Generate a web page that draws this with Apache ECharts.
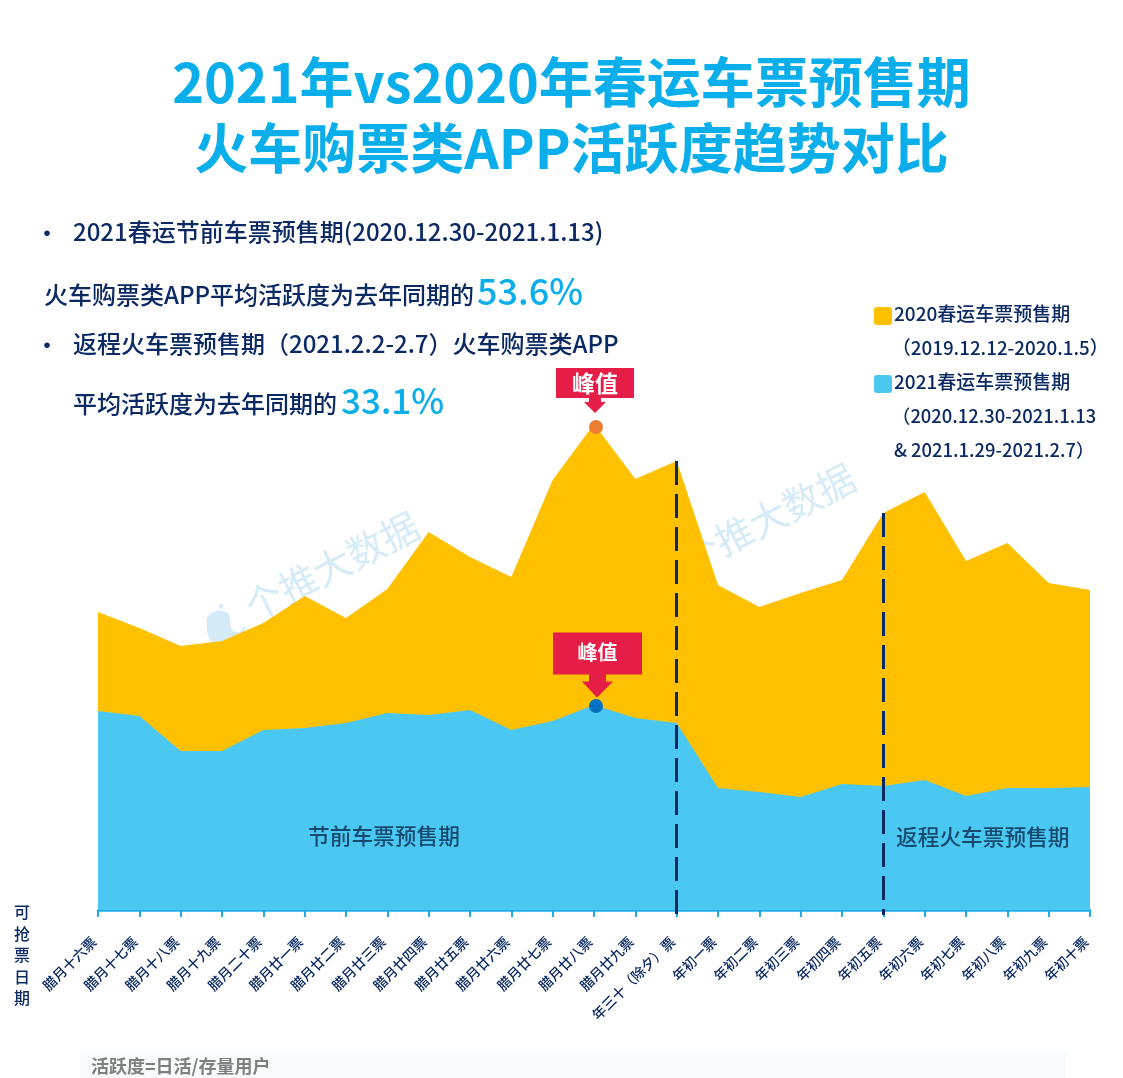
<!DOCTYPE html>
<html><head><meta charset="utf-8">
<style>html,body{margin:0;padding:0;background:#fff}#c{width:1123px;height:1078px}</style>
<script src="https://cdn.jsdelivr.net/npm/echarts@6/dist/echarts.min.js"></script>
</head><body><div id="c"></div>
<script>
const categories = ['腊月十六票','腊月十七票','腊月十八票','腊月十九票','腊月二十票','腊月廿一票','腊月廿二票','腊月廿三票','腊月廿四票','腊月廿五票','腊月廿六票','腊月廿七票','腊月廿八票','腊月廿九票','年三十（除夕）票','年初一票','年初二票','年初三票','年初四票','年初五票','年初六票','年初七票','年初八票','年初九票','年初十票'];
const values2020 = [59.6,56.4,52.8,53.8,57.4,62.8,58.4,64.2,75.6,70.6,66.6,86,97.2,86.2,89.8,65,60.6,63.4,66,79.4,83.6,69.8,73.4,65.4,64];
const values2021 = [39.8,38.8,31.8,31.8,36,36.4,37.4,39.4,39,40,36,37.8,41,38.4,37.4,24.4,23.6,22.6,25.2,24.8,26,22.8,24.4,24.4,24.6];
const peakIndex = 12;
const dividerIndexes = [14,19];
const NAVY = '#0B2A63', SKY = '#0AAEEA', FONT = '"Noto Sans CJK SC","Noto Sans",sans-serif';

function txt(x,y,text,size,color,weight,extra){
  return {type:'text',x:x,y:y,silent:true,z:20,style:Object.assign({text:text,font:(weight||500)+' '+size+'px '+FONT,fill:color,textVerticalAlign:'middle'},extra||{})};
}
function peakMark(idx,val,w,h,dx,dy,path,fs,ly){
  return {symbol:'path://'+path,symbolSize:[w,h],symbolKeepAspect:false,symbolOffset:[dx,dy],silent:true,
    label:{show:true,formatter:'峰值',position:'inside',offset:[0,ly],color:'#fff',fontSize:fs,fontWeight:700,fontFamily:FONT},
    itemStyle:{color:'#E61D47'},data:[{coord:[idx,val]}]};
}
const chart = echarts.init(document.getElementById('c'),null,{renderer:'canvas'});
chart.setOption({
  animation:false,
  backgroundColor:'#fff',
  textStyle:{fontFamily:FONT},
  grid:{left:98,right:33,top:410,bottom:163},
  xAxis:{type:'category',data:categories,boundaryGap:false,
    axisLine:{onZero:true,lineStyle:{color:'#1FADE6',width:2.5}},
    axisTick:{show:true,alignWithLabel:true,length:7,lineStyle:{color:'#1FADE6',width:2}},
    axisLabel:{interval:0,rotate:45,color:NAVY,fontSize:13.8,margin:20,padding:[0,6,0,0],fontFamily:FONT,fontWeight:500}},
  yAxis:{type:'value',min:-1,max:100,show:false,splitLine:{show:false}},
  series:[
    {name:'2020春运车票预售期',type:'line',data:values2020,symbol:'none',lineStyle:{width:0},areaStyle:{color:'#FFC000',opacity:1,origin:0},z:3},
    {name:'2021春运车票预售期',type:'line',data:values2021,symbol:'none',lineStyle:{width:0},areaStyle:{color:'#4BC8F2',opacity:1,origin:0},z:4},
    {name:'2020峰值',type:'scatter',data:[[peakIndex,values2020[peakIndex]-0.6]],symbolSize:14,symbolOffset:[2,0],itemStyle:{color:'#ED7D31',opacity:1},z:7,
      markLine:{silent:true,symbol:'none',label:{show:false},lineStyle:{color:'#0B2A63',width:3,type:[24,9],opacity:1},
        data:dividerIndexes.map(i=>[{coord:[i,values2020[i]]},{coord:[i,-1]}])},
      markPoint:peakMark(peakIndex,values2020[peakIndex]-0.6,78,45,1,-36.5,'M556 368H634V398H601V402H606L595 413L584 402H589V398H556Z',23,-7.5)},
    {name:'2021峰值',type:'scatter',data:[[peakIndex,values2021[peakIndex]]],symbolSize:14,symbolOffset:[2,1],itemStyle:{color:'#0070C0',opacity:1},z:7,
      markPoint:peakMark(peakIndex,values2021[peakIndex],89,65,3.5,-40,'M553 632H642V674H606V681H613L597 697L582 681H589V674H553Z',20,-13)}
  ],
  graphic:[
    // watermarks sit behind the series
    {type:'text',x:332,y:566,rotation:Math.PI*27/180,z:0,silent:true,style:{text:'个推大数据',font:'400 38px '+FONT,fill:'#D5EBF8',textAlign:'center',textVerticalAlign:'middle'}},
    {type:'text',x:768,y:518,rotation:Math.PI*27/180,z:0,silent:true,style:{text:'个推大数据',font:'400 38px '+FONT,fill:'#D5EBF8',textAlign:'center',textVerticalAlign:'middle'}},
    {type:'polygon',z:0,silent:true,shape:{points:[[207,618],[216,611],[228,613],[232,630],[240,632],[245,625],[243,634],[225,644],[210,640]],smooth:0.3},style:{fill:'#D5EBF8'}},
    {type:'polygon',z:0,silent:true,shape:{points:[[218,605],[221,604],[224,604],[221,610]]},style:{fill:'#D5EBF8'}},
    // heading
    txt(571.5,82,'2021年vs2020年春运车票预售期',54,SKY,700,{textAlign:'center'}),
    txt(571.5,148,'火车购票类APP活跃度趋势对比',54,SKY,700,{textAlign:'center'}),
    // notes
    txt(35,233,'•',24,NAVY),
    txt(73,232,'2021春运节前车票预售期(2020.12.30-2021.1.13)',24,NAVY),
    txt(44,295,'火车购票类APP平均活跃度为去年同期的',24,NAVY),
    txt(477,291,'53.6%',36,SKY,500),
    txt(35,345,'•',24,NAVY),
    txt(73,344,'返程火车票预售期（2021.2.2-2.7）火车购票类APP',24,NAVY),
    txt(73,404,'平均活跃度为去年同期的',24,NAVY),
    txt(341,401,'33.1%',35,SKY,500),
    // legend
    {type:'rect',shape:{x:874,y:307,width:18,height:18,r:3},silent:true,z:20,style:{fill:'#FFC000'}},
    txt(894,314,'2020春运车票预售期',19,NAVY),
    txt(892,348,'（2019.12.12-2020.1.5）',18.8,NAVY),
    {type:'rect',shape:{x:874,y:375,width:18,height:18,r:3},silent:true,z:20,style:{fill:'#4BC8F2'}},
    txt(894,382,'2021春运车票预售期',19,NAVY),
    txt(892,416,'（2020.12.30-2021.1.13',18.4,NAVY),
    txt(894,450,'& 2021.1.29-2021.2.7）',18.4,NAVY),
    // period labels
    txt(308,836,'节前车票预售期',21.7,'#154A6E',500),
    txt(896,837,'返程火车票预售期',21.7,'#154A6E',500),
    // axis caption
    txt(22,955,'可\n抢\n票\n日\n期',16,NAVY,500,{textAlign:'center',lineHeight:21.5}),
    // footnote
    {type:'rect',shape:{x:80,y:1052,width:986,height:26},silent:true,z:19,style:{fill:'#F7FBFE'}},
    txt(91,1066,'活跃度=日活/存量用户',18,'#7F7F7F',700)
  ]
});
</script></body></html>
